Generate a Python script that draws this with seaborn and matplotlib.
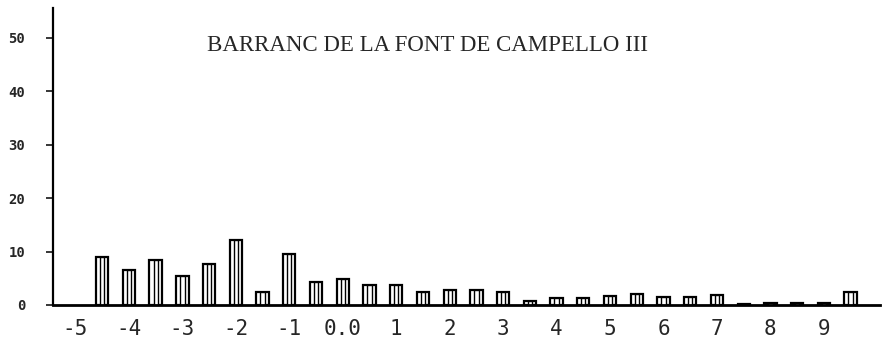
import matplotlib
matplotlib.use("Agg")
import matplotlib.pyplot as plt
import seaborn as sns
import pandas as pd

# Data
classes = [-4.5, -4.0, -3.5, -3.0, -2.5, -2.0, -1.5, -1.0, -0.5, 0.0,
           0.5, 1.0, 1.5, 2.0, 2.5, 3.0, 3.5, 4.0, 4.5, 5.0,
           5.5, 6.0, 6.5, 7.0, 7.5, 8.0, 8.5, 9.0, 9.5]
percent = [9.0, 6.6, 8.5, 5.5, 7.7, 12.1, 2.4, 9.5, 4.3, 4.9,
           3.7, 3.8, 2.5, 2.8, 2.9, 2.4, 0.7, 1.3, 1.4, 1.6,
           2.1, 1.5, 1.5, 1.9, 0.2, 0.4, 0.4, 0.4, 2.4]
x_ticks = [-5, -4, -3, -2, -1, 0, 1, 2, 3, 4, 5, 6, 7, 8, 9]
x_tick_labels = ["-5", "-4", "-3", "-2", "-1", "0.0", "1", "2", "3", "4",
                 "5", "6", "7", "8", "9"]
y_ticks = [0, 10, 20, 30, 40, 50]
title = "BARRANC DE LA FONT DE CAMPELLO III"

df = pd.DataFrame({"phi": classes, "pct": percent})

sns.set_style("white")
plt.rcParams['font.family'] = ['DejaVu Sans Mono', 'DejaVu Sans']

fig = plt.figure(figsize=(8.87, 3.48), dpi=100)
ax = fig.add_axes([53/887, 43/348, (880-53)/887, (305-8)/348])

sns.barplot(data=df, x="phi", y="pct", native_scale=True, width=0.46,
            color="white", edgecolor="black", linewidth=1.6, saturation=1,
            ax=ax)
sns.barplot(data=df, x="phi", y="pct", native_scale=True, width=0.16,
            color="white", edgecolor="black", linewidth=1.0, saturation=1,
            ax=ax)

ax.set_xlim(-5.42, 10.05)
ax.set_ylim(0, 55.6)
ax.set_xticks(x_ticks)
ax.set_xticklabels(x_tick_labels, fontsize=15)
ax.set_yticks(y_ticks)
ax.set_yticklabels([str(v) for v in y_ticks], fontsize=10, fontweight="bold")
ax.tick_params(axis="x", length=0, pad=10)
ax.tick_params(axis="y", length=5, width=1.3, direction="out", left=True, pad=15)
ax.set_xlabel("")
ax.set_ylabel("")
for s in ["top", "right"]:
    ax.spines[s].set_visible(False)
ax.spines["left"].set_linewidth(1.6)
ax.spines["bottom"].set_linewidth(2.0)
ax.spines["left"].set_color("black")
ax.spines["bottom"].set_color("black")

ax.text(0.453, 0.875, title, transform=ax.transAxes, ha="center", va="center",
        fontsize=16.5, family="Liberation Serif")

fig.savefig("out.png", dpi=100, facecolor="white")
